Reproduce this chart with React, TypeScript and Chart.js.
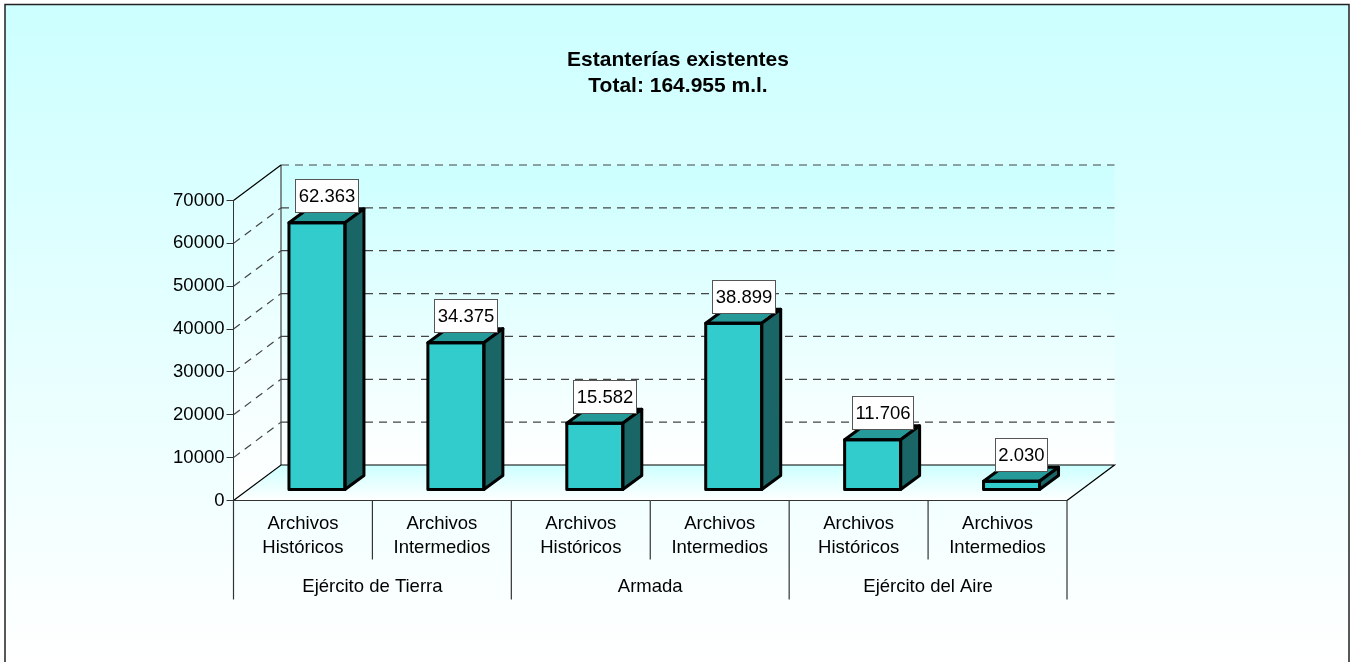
import React, { useEffect, useRef } from "react";
import { Chart, registerables } from "chart.js";

Chart.register(...registerables);

const categories = [
  ["Archivos", "Históricos"],
  ["Archivos", "Intermedios"],
  ["Archivos", "Históricos"],
  ["Archivos", "Intermedios"],
  ["Archivos", "Históricos"],
  ["Archivos", "Intermedios"],
];
const groups = ["Ejército de Tierra", "Armada", "Ejército del Aire"];
const metres = [62363, 34375, 15582, 38899, 11706, 2030];
const valueLabels = ["62.363", "34.375", "15.582", "38.899", "11.706", "2.030"];
const titleLines = ["Estanterías existentes", "Total: 164.955 m.l."];

const FONT = "'Liberation Sans', Arial, sans-serif";
const FS = 18.5;
const TITLE_FS = 21;
const WALL = { dx: 47.5, dy: -35.5 };
const BAR_SHIFT = { dx: 14, dy: -10.5 };
const BAR_DEPTH = { dx: 19, dy: -14 };
const DARK = "#333333";

function poly(ctx: CanvasRenderingContext2D, pts: number[][]) {
  ctx.beginPath();
  pts.forEach(([x, y], i) => (i ? ctx.lineTo(x, y) : ctx.moveTo(x, y)));
  ctx.closePath();
}

const scene3d = {
  id: "scene3d",
  beforeDraw(chart: any) {
    const { ctx, width, height, scales } = chart;
    const x = scales.x;
    const y = scales.y;
    const L = x.left, R = x.right, T = y.top, B = y.bottom;
    ctx.save();
    ctx.fillStyle = "#ffffff";
    ctx.fillRect(0, 0, width, height);
    let g = ctx.createLinearGradient(0, 5, 0, height);
    g.addColorStop(0, "#CCFFFF");
    g.addColorStop(1, "#FFFFFF");
    ctx.fillStyle = g;
    ctx.fillRect(5, 5, 1344, height);
    ctx.strokeStyle = "#222222";
    ctx.lineWidth = 1.5;
    ctx.beginPath();
    ctx.moveTo(5, height);
    ctx.lineTo(5, 4.5);
    ctx.lineTo(1349, 4.5);
    ctx.lineTo(1349, height);
    ctx.stroke();

    const dx = WALL.dx, dy = WALL.dy;
    // back wall
    g = ctx.createLinearGradient(0, T + dy, 0, B + dy);
    g.addColorStop(0, "#CCFFFF");
    g.addColorStop(1, "#FFFFFF");
    ctx.fillStyle = g;
    ctx.fillRect(L + dx, T + dy, R - L, B - T);
    // left wall
    g = ctx.createLinearGradient(0, T + dy, 0, B);
    g.addColorStop(0, "#DDFFFF");
    g.addColorStop(1, "#FFFFFF");
    ctx.fillStyle = g;
    poly(ctx, [[L, T], [L + dx, T + dy], [L + dx, B + dy], [L, B]]);
    ctx.fill();
    // floor
    g = ctx.createLinearGradient(0, B + dy, 0, B);
    g.addColorStop(0, "#CCFFFF");
    g.addColorStop(1, "#FFFFFF");
    ctx.fillStyle = g;
    poly(ctx, [[L, B], [L + dx, B + dy], [R + dx, B + dy], [R, B]]);
    ctx.fill();

    // dashed grid
    ctx.lineWidth = 1.2;
    ctx.strokeStyle = "#444444";
    ctx.setLineDash([8, 6]);
    y.ticks.forEach((t: any) => {
      if (t.value === 0) return;
      const py = y.getPixelForValue(t.value);
      ctx.beginPath();
      ctx.moveTo(L + dx, py + dy);
      ctx.lineTo(R + dx, py + dy);
      ctx.stroke();
      if (t.value < 70000) {
        ctx.beginPath();
        ctx.moveTo(L, py);
        ctx.lineTo(L + dx, py + dy);
        ctx.stroke();
      }
    });
    ctx.setLineDash([]);

    // solid edges
    ctx.strokeStyle = "#444444";
    ctx.beginPath();
    ctx.moveTo(L + dx, T + dy);
    ctx.lineTo(L + dx, B + dy);
    ctx.stroke();
    ctx.strokeStyle = "#000000";
    ctx.beginPath();
    ctx.moveTo(L, T);
    ctx.lineTo(L + dx, T + dy);
    ctx.moveTo(L, B);
    ctx.lineTo(L + dx, B + dy);
    ctx.lineTo(R + dx, B + dy);
    ctx.lineTo(R, B);
    ctx.stroke();

    // multi-level axis separators
    ctx.strokeStyle = DARK;
    const n = categories.length;
    const edge = (i: number) =>
      i === n ? x.right : i === 0 ? x.left : (x.getPixelForValue(i - 1) + x.getPixelForValue(i)) / 2;
    for (let i = 0; i <= n; i++) {
      const px = edge(i);
      ctx.beginPath();
      ctx.moveTo(px, B);
      ctx.lineTo(px, i % 2 === 0 ? B + 99 : B + 59);
      ctx.stroke();
    }
    ctx.restore();
  },
  beforeDatasetDraw(chart: any) {
    chart.ctx.save();
    chart.ctx.translate(BAR_SHIFT.dx, BAR_SHIFT.dy);
  },
  afterDatasetDraw(chart: any, args: any) {
    const ctx = chart.ctx;
    ctx.restore();
    const els = chart.getDatasetMeta(args.index).data;
    const dx = BAR_DEPTH.dx, dy = BAR_DEPTH.dy;
    ctx.save();
    ctx.lineJoin = "round";
    ctx.strokeStyle = "#000000";
    ctx.lineWidth = 3;
    els.forEach((el: any) => {
      const l = el.x - el.width / 2 + BAR_SHIFT.dx;
      const r = el.x + el.width / 2 + BAR_SHIFT.dx;
      const t = el.y + BAR_SHIFT.dy;
      const b = el.base + BAR_SHIFT.dy;
      ctx.fillStyle = "#269999";
      poly(ctx, [[l, t], [l + dx, t + dy], [r + dx, t + dy], [r, t]]);
      ctx.fill();
      ctx.stroke();
      ctx.fillStyle = "#1A6666";
      poly(ctx, [[r, t], [r + dx, t + dy], [r + dx, b + dy], [r, b]]);
      ctx.fill();
      ctx.stroke();
      ctx.strokeRect(l, t, r - l, b - t);
    });
    ctx.restore();
  },
  afterDatasetsDraw(chart: any) {
    const ctx = chart.ctx;
    const els = chart.getDatasetMeta(0).data;
    ctx.save();
    ctx.font = `${FS}px ${FONT}`;
    ctx.textAlign = "center";
    ctx.textBaseline = "middle";
    els.forEach((el: any, i: number) => {
      const text = valueLabels[i];
      const w = Math.round(ctx.measureText(text).width) + 6;
      const h = 33;
      const cx = el.x + BAR_SHIFT.dx + 9.5;
      const bottom = el.y + BAR_SHIFT.dy - 10.5;
      const left = Math.round(cx - w / 2);
      const top = Math.round(bottom - h);
      ctx.fillStyle = "#ffffff";
      ctx.fillRect(left, top, w, h);
      ctx.strokeStyle = "#555555";
      ctx.lineWidth = 1;
      ctx.strokeRect(left + 0.5, top + 0.5, w, h);
      ctx.fillStyle = "#000000";
      ctx.fillText(text, left + w / 2 + 0.5, top + h / 2 + 1);
    });
    ctx.restore();
  },
};

export default function App() {
  const ref = useRef<HTMLCanvasElement | null>(null);
  useEffect(() => {
    const chart = new Chart(ref.current as HTMLCanvasElement, {
      type: "bar",
      data: {
        labels: categories,
        datasets: [
          {
            label: "Estanterías",
            data: metres,
            backgroundColor: "#33CCCC",
            borderWidth: 0,
            barPercentage: 0.403,
            categoryPercentage: 1,
            clip: false,
          } as any,
        ],
      },
      options: {
        responsive: false,
        animation: false,
        layout: { padding: { left: 3, right: 0, top: 0, bottom: 0 } },
        plugins: {
          legend: { display: false },
          tooltip: { enabled: false },
          title: {
            display: true,
            text: titleLines,
            color: "#000000",
            font: { family: FONT, size: TITLE_FS, weight: "bold", lineHeight: 26 / TITLE_FS },
            padding: { top: 47, bottom: 101.5 },
          },
        },
        scales: {
          y: {
            min: 0,
            max: 70000,
            ticks: {
              stepSize: 10000,
              color: "#000000",
              font: { family: FONT, size: FS },
              padding: 2,
              callback: (v: any) => String(v),
            },
            grid: { drawOnChartArea: false, tickLength: 7, color: DARK },
            border: { color: DARK },
            afterFit(s: any) {
              s.width = 230.5;
            },
          },
          x: {
            offset: true,
            grid: { display: false, drawTicks: false },
            border: { color: DARK },
            ticks: {
              color: "#000000",
              font: { family: FONT, size: FS, lineHeight: 24 / FS },
              padding: 11.5,
              maxRotation: 0,
              autoSkip: false,
            },
            afterFit(s: any) {
              s.height = 73;
            },
          },
          x2: {
            type: "category",
            axis: "x",
            position: "bottom",
            labels: groups,
            offset: true,
            grid: { display: false, drawTicks: false },
            border: { display: false },
            ticks: {
              color: "#000000",
              font: { family: FONT, size: FS, lineHeight: 24 / FS },
              padding: 1.5,
              maxRotation: 0,
            },
            afterFit(s: any) {
              s.height = 88.5;
            },
          },
          gutter: {
            type: "linear",
            axis: "y",
            position: "right",
            grid: { display: false },
            border: { display: false },
            ticks: { display: false },
            afterFit(s: any) {
              s.width = 286;
            },
          },
        },
      } as any,
      plugins: [scene3d],
    });
    return () => chart.destroy();
  }, []);
  return (
    <canvas
      ref={ref}
      width={1353}
      height={662}
      style={{ position: "absolute", left: 0, top: 0, display: "block" }}
    />
  );
}
